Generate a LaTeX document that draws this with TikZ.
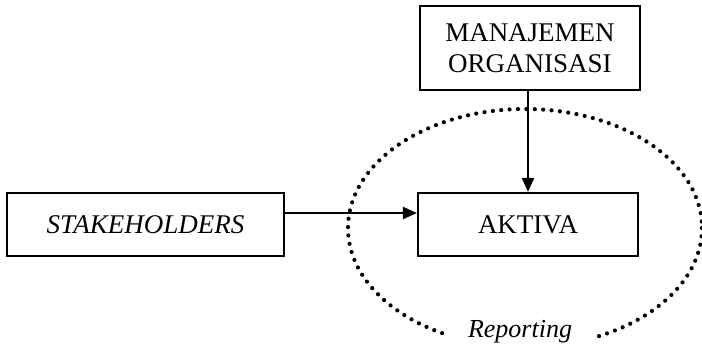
\documentclass[tikz,border=0pt]{standalone}
\usepackage{fontspec}
\setmainfont{Liberation Serif}
\usetikzlibrary{arrows.meta}
\begin{document}
\begin{tikzpicture}[x=1pt,y=-1pt,
  box/.style={draw,line width=2.2pt,inner sep=0pt,font=\fontsize{27}{31}\selectfont},
  conn/.style={line width=2.2pt,-{Triangle[length=14pt,width=12pt]}},
  dotline/.style={line width=4.2pt,line cap=round,dash pattern=on 0pt off 8.4pt}]
\useasboundingbox (0,0) rectangle (702,356);
\draw[dotline] (525,228) ellipse [x radius=177, y radius=119];
\node[fill=white,inner xsep=24pt,inner ysep=10pt,font=\fontsize{26}{30}\selectfont\itshape] (rep) at (520,332) {Reporting};
\node[box,minimum width=220pt,minimum height=84pt,align=center] (mo) at (530,48) {MANAJEMEN\\ORGANISASI};
\node[box,minimum width=277pt,minimum height=63pt,font=\fontsize{27}{31}\selectfont\itshape] (st) at (145.5,224.5) {STAKEHOLDERS};
\node[box,minimum width=220pt,minimum height=63pt] (ak) at (528,224.5) {AKTIVA};
\draw[conn] (st.east |- 0,213) coordinate (s1) -- (ak.west |- s1);
\draw[conn] (mo.south -| 528,0) -- (ak.north -| 528,0);
\end{tikzpicture}
\end{document}
